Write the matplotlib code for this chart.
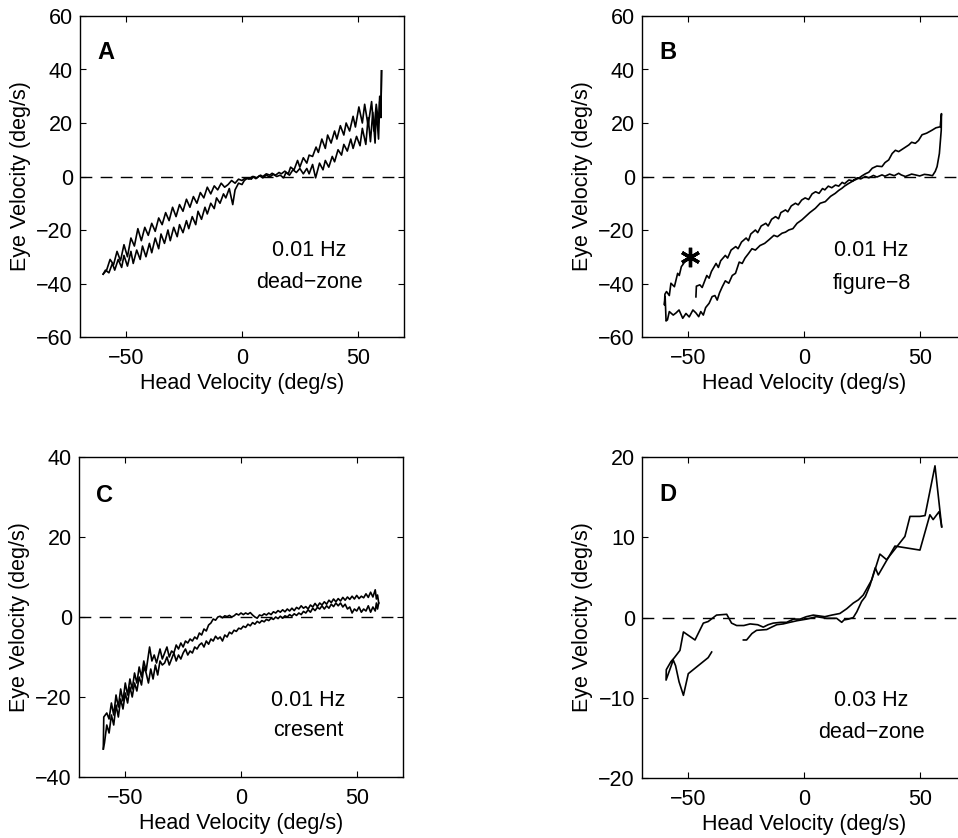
import matplotlib
matplotlib.use("Agg")
import matplotlib.pyplot as plt

plt.rcParams['font.family'] = ['Liberation Sans', 'DejaVu Sans']
plt.rcParams['axes.unicode_minus'] = True

# ---------------- Data, (head, eye) pairs ----------------
# Panel A: 0.01 Hz dead-zone loop, two branches
A_branch1 = [(-60, -36.5), (-59, -35.0), (-57.5, -36.0), (-56, -32.5), (-55, -35.0), (-53.5, -31.0), (-52, -34.0),
             (-51, -29.5), (-49.5, -33.5), (-48, -28.0), (-47, -32.5), (-45.5, -27.5), (-44, -31.0), (-43, -26.0),
             (-41.5, -30.0), (-40, -25.0), (-39, -28.5), (-37.5, -23.0), (-36, -27.0), (-35, -21.5), (-33.5, -25.0),
             (-32, -20.0), (-31, -24.0), (-29.5, -19.0), (-28, -22.5), (-27, -18.0), (-25.5, -21.0), (-24, -16.5),
             (-23, -19.5), (-21.5, -15.0), (-20, -18.0), (-19, -13.0), (-17.5, -16.0), (-16, -11.5), (-15, -14.0),
             (-13.5, -10.0), (-12, -12.0), (-11, -8.0), (-9.5, -10.0), (-8, -6.5), (-7, -8.0), (-5.5, -4.5),
             (-4, -10.5), (-3, -5.0), (-1.5, -2.5), (0, -3.0), (1, -1.5), (2.5, -0.5), (4, -1.0), (5, 0.0),
             (6.5, -0.5), (8, 0.5), (9, 0.0), (10.5, 1.0), (12, 0.5), (13, 1.2), (14.5, 0.5), (16, 1.5), (17, 1.0),
             (18.5, 2.0), (20, 1.0), (21, 3.5), (22.5, 2.5), (24, 6.0), (25, 3.5), (26.5, 7.0), (28, 5.0), (29, 8.0),
             (30.5, 7.5), (32, 11.0), (33, 9.0), (34.5, 14.0), (36, 10.5), (37, 15.5), (38.5, 12.5), (40, 17.0),
             (41, 14.0), (42.5, 19.0), (44, 15.5), (45, 20.0), (46.5, 17.0), (48, 22.5), (49, 18.5), (50.5, 26.0),
             (52, 20.0), (53, 27.0), (54.5, 19.0), (56, 28.0), (57, 17.0), (58, 27.0), (59, 20.0), (59.5, 30.0),
             (60, 24.0), (60.3, 39.5)]
A_branch2 = [(60.3, 39.5), (60, 22.0), (59.5, 28.0), (59, 14.0), (58, 25.0), (57.5, 12.5), (56.5, 24.0), (55.5, 13.0),
             (54.5, 22.0), (53.5, 12.0), (52, 18.0), (51, 11.5), (49.5, 15.0), (48, 10.5), (47, 14.0), (45.5, 9.5),
             (44, 12.0), (43, 8.0), (41.5, 10.0), (40, 5.5), (39, 7.5), (37.5, 3.5), (36, 6.0), (35, 2.5),
             (33.5, 5.0), (31.8, -0.5), (30.5, 4.5), (29, 1.0), (28, 3.0), (26.5, 1.0), (25, 3.0), (23.5, 1.5),
             (22, 2.5), (20.5, 0.5), (19, 1.5), (18, -0.5), (16.5, 0.5), (15, 0.0), (13.5, 0.8), (12, -0.2),
             (10.5, 0.5), (9, -0.5), (7.5, 0.3), (6, -0.8), (4.5, 0.0), (3, -1.0), (1.5, -0.5), (0, -1.5),
             (-1.5, -1.0), (-3, -2.5), (-4.5, -1.5), (-6, -3.0), (-7.5, -4.0), (-9, -2.5), (-10.5, -5.0),
             (-12, -3.5), (-13.5, -6.5), (-15, -4.0), (-16.5, -8.0), (-18, -6.0), (-19.5, -10.0), (-21, -7.5),
             (-22.5, -11.5), (-24, -8.5), (-25.5, -13.0), (-27, -10.5), (-28.5, -15.0), (-30, -11.5), (-31.5, -16.5),
             (-33, -13.5), (-34.5, -18.0), (-36, -15.5), (-37.5, -20.5), (-39, -17.5), (-40.5, -22.0), (-42, -19.0),
             (-43.5, -24.0), (-45, -19.5), (-46.5, -26.0), (-48, -23.0), (-49.5, -30.0), (-51, -25.5),
             (-52.5, -31.5), (-54, -28.0), (-55.5, -33.0), (-57, -31.0), (-58.5, -35.0), (-60, -36.5)]

# Panel B: 0.01 Hz figure-8 trajectory (starts near -47, ends at the star)
B_path = [(-46.7, -45.0), (-46.5, -41.0), (-45, -40.5), (-44, -41.5), (-42, -37.0), (-41, -38.0), (-40, -35.5),
          (-38, -32.5), (-37, -34.0), (-36, -31.5), (-34, -29.5), (-33, -30.5), (-31.5, -27.5), (-29.5, -26.2),
          (-28.5, -27.0), (-27, -24.5), (-25, -23.0), (-24, -24.0), (-23, -21.5), (-21, -20.0), (-20, -21.0),
          (-18.5, -18.5), (-16.5, -17.5), (-15.5, -18.5), (-14, -16.0), (-12.3, -15.0), (-11, -15.8), (-10, -13.5),
          (-8, -12.5), (-7, -13.2), (-5.5, -11.0), (-3.7, -10.0), (-2.5, -10.6), (-1, -8.8), (0.5, -8.0),
          (2, -8.6), (3.5, -6.5), (5, -5.7), (6.5, -6.3), (8, -4.5), (9, -5.0), (10.5, -3.6), (12, -4.2),
          (13.6, -3.2), (15, -3.6), (16.5, -2.2), (17.5, -2.7), (19.4, -1.3), (21, -1.6), (23, -0.5),
          (24.5, -0.9), (26.5, 0.0), (28, -0.5), (30, 0.4), (31.5, -0.2), (33.7, 0.6), (35, 0.1), (37, 0.9),
          (39, 0.3), (40.9, 1.2), (42, 0.6), (43.8, 0.0), (45, 0.4), (46.5, 0.9), (48.1, 0.6), (50, 0.2),
          (52, 0.8), (53.9, 0.6), (55.5, 0.3), (56.7, 1.9), (57.5, 3.7), (58.5, 8.6), (59.3, 17.3), (59.4, 23.5),
          (59.0, 20.0), (58.9, 18.6), (57, 18.2), (55.3, 17.3), (53, 16.2), (51, 15.6), (49.5, 13.5),
          (48.1, 12.4), (46.5, 12.8), (45.3, 11.8), (43, 10.5), (40.9, 9.3), (39.5, 9.8), (38.1, 8.6),
          (36.6, 6.2), (35, 5.2), (33.7, 3.7), (31.5, 3.9), (29.5, 3.1), (28, 1.6), (26.5, 1.0), (25, 0.2),
          (23.7, -0.6), (21.5, -1.5), (19.3, -2.6), (17.5, -3.6), (16.4, -4.4), (15, -5.2), (13.5, -6.3),
          (11.5, -7.4), (9.2, -9.4), (7, -10.0), (4.9, -11.9), (2.5, -13.5), (-0.9, -16.2), (-3, -17.5),
          (-4.8, -19.5), (-6.6, -20.0), (-8, -20.8), (-9.5, -21.2), (-11.5, -22.5), (-13, -22.0), (-15.2, -23.7),
          (-17, -25.0), (-19, -25.8), (-21, -27.5), (-22.5, -27.0), (-23.9, -28.7), (-25.5, -30.5),
          (-26.7, -32.5), (-28, -32.0), (-29.6, -36.2), (-31, -37.0), (-32.5, -39.9), (-34, -39.0),
          (-35.3, -41.2), (-36.5, -43.5), (-37.5, -46.2), (-38.5, -44.5), (-39.7, -44.9), (-41, -47.4),
          (-42.5, -49.0), (-43.5, -51.8), (-44.6, -50.5), (-45.5, -52.4), (-46.7, -51.0), (-48, -49.9),
          (-49.6, -52.5), (-51, -51.2), (-52.4, -53.0), (-54, -49.9), (-55.3, -51.0), (-56.5, -51.8),
          (-58.2, -50.5), (-59, -53.6), (-59.6, -54.0), (-60.0, -44.9), (-60.3, -48.0), (-60.1, -44.0),
          (-59.4, -43.0), (-58.2, -44.5), (-57.5, -39.9), (-56.0, -41.2), (-54.6, -36.2), (-53.9, -37.0),
          (-53.0, -33.7), (-52.4, -33.0), (-51.0, -31.2), (-49.6, -31.2)]
B_star = (-49.4, -30.2)

# Panel C: 0.01 Hz crescent loop
C_branch1 = [(-59.5, -33.0), (-59.3, -25.0), (-58, -24.0), (-57, -25.5), (-56, -21.5), (-55, -24.5), (-54, -19.5),
             (-53, -22.5), (-52, -18.0), (-51, -21.0), (-50, -16.5), (-49, -19.5), (-48, -15.5), (-47, -18.0),
             (-46, -14.0), (-45, -16.5), (-44, -12.5), (-43, -15.0), (-42, -11.0), (-41, -13.5), (-39.5, -7.5),
             (-38.5, -11.0), (-37.5, -9.5), (-36.5, -11.5), (-35, -8.0), (-34, -10.5), (-33, -9.0), (-32, -7.5),
             (-31, -10.0), (-30, -8.5), (-29, -9.0), (-28, -7.0), (-27, -8.0), (-26, -6.5), (-25, -7.5), (-24, -6.0),
             (-23, -6.5), (-22, -5.5), (-21, -6.0), (-20, -5.0), (-19, -5.5), (-18, -4.0), (-17, -4.5), (-16, -3.0),
             (-15, -3.5), (-14, -2.0), (-13, -1.5), (-12, -0.5), (-11, -0.8), (-10, 0.0), (-9, 0.2), (-8, -0.2),
             (-7, 0.3), (-6, 0.1), (-5, 0.4), (-4, 0.0), (-3, 0.3), (-2, 0.8), (-1, 0.5), (0, 1.0), (1, 0.6),
             (2, 1.0), (3, 0.7), (4, 1.1), (5, 0.5), (6, 0.0), (7, -0.3), (8, 0.5), (9, 0.3), (10, 0.8), (11, 0.5),
             (12, 1.0), (13, 0.6), (14, 1.3), (15, 1.0), (16, 1.6), (17, 1.2), (18, 1.8), (19, 1.3), (20, 2.0),
             (21, 1.5), (22, 2.2), (23, 1.6), (24, 2.4), (25, 2.0), (26, 2.8), (27, 2.2), (28, 2.6), (29, 2.0),
             (30, 3.0), (31, 2.5), (32, 3.4), (33, 2.6), (34, 3.5), (35, 3.0), (36, 3.8), (37, 3.2), (38, 4.2),
             (39, 3.6), (40, 4.5), (41, 3.8), (42, 4.6), (43, 4.0), (44, 4.9), (45, 4.2), (46, 5.0), (47, 4.4),
             (48, 5.2), (49, 4.5), (50, 5.4), (51, 4.6), (52, 5.2), (53, 4.8), (54, 5.8), (55, 4.9), (56, 6.2),
             (57, 5.0), (58, 6.8), (58.5, 4.5), (59, 5.5), (59.5, 3.5)]
C_branch2 = [(59.5, 3.5), (59, 2.0), (58.5, 3.5), (58, 1.5), (57, 2.5), (56, 1.2), (55, 2.8), (54, 1.5), (53, 2.0),
             (52, 1.2), (51, 2.5), (50, 1.5), (49, 2.0), (48, 1.0), (47, 2.5), (46, 2.0), (45, 3.2), (44, 2.5),
             (43, 3.5), (42, 2.8), (41, 3.5), (40, 2.6), (39, 3.2), (38, 2.2), (37, 2.8), (36, 2.0), (35, 2.8),
             (34, 2.0), (33, 2.4), (32, 1.6), (31, 2.2), (30, 1.2), (29, 1.8), (28, 1.0), (27, 1.4), (26, 0.6),
             (25, 1.0), (24, 0.4), (23, 0.8), (22, 0.2), (21, 0.6), (20, 0.0), (19, 0.3), (18, -0.3), (17, 0.2),
             (16, -0.4), (15, 0.0), (14, -0.6), (13, -0.3), (12, -0.9), (11, -0.6), (10, -1.2), (9, -0.9),
             (8, -1.5), (7, -1.1), (6, -1.8), (5, -1.4), (4, -2.2), (3, -1.8), (2, -2.6), (1, -2.3), (0, -3.0),
             (-1, -2.8), (-2, -3.6), (-3, -3.3), (-4, -4.2), (-5, -3.8), (-6, -5.0), (-7, -4.5), (-8, -6.0),
             (-9, -5.0), (-10, -5.5), (-11, -4.8), (-12, -6.0), (-13, -5.5), (-14, -6.8), (-15, -6.0), (-16, -7.5),
             (-17, -6.5), (-18, -7.0), (-19, -8.0), (-20, -7.5), (-21, -9.0), (-22, -8.5), (-23, -9.5), (-24, -8.0),
             (-25, -9.0), (-26, -10.5), (-27, -9.5), (-28, -11.0), (-29, -9.0), (-30, -10.5), (-31, -12.0),
             (-32, -10.0), (-33, -11.5), (-34, -12.0), (-35, -11.0), (-36, -14.5), (-37, -12.0), (-38, -15.5),
             (-39, -13.0), (-40, -16.5), (-41, -14.0), (-42, -12.5), (-43, -17.0), (-44, -15.0), (-45, -18.5),
             (-46, -16.5), (-47, -20.0), (-48, -17.5), (-49, -21.5), (-50, -19.0), (-51, -23.0), (-52, -20.5),
             (-53, -25.0), (-54, -22.0), (-55, -27.0), (-56, -24.5), (-57, -29.0), (-58, -27.0), (-59, -31.5),
             (-59.5, -33.0)]

# Panel D: 0.03 Hz dead-zone (two traced segments)
D_seg1 = [(-39.9, -4.3), (-41.4, -5.0), (-50.0, -7.0), (-52.1, -9.7), (-54.0, -8.0), (-55.5, -6.0), (-56.5, -5.3),
          (-59.6, -7.8), (-59.5, -6.5), (-57.5, -5.5), (-56.0, -5.0), (-53.6, -4.1), (-52.1, -1.8), (-47.1, -2.8),
          (-43.5, -0.7), (-41.4, -0.5), (-37.8, 0.3), (-33.4, 0.4), (-31.3, -0.7), (-29.1, -1.0), (-26.0, -1.0),
          (-23.3, -0.8), (-20.0, -0.9), (-17.6, -1.2), (-15.5, -0.9), (-13.3, -0.7), (-10.0, -0.6), (-7.5, -0.6),
          (-4.5, -0.2), (-1.7, -0.2), (1.0, 0.1), (4.0, 0.3), (9.0, 0.1), (12.0, 0.3), (15.5, 0.5), (18.5, 1.1),
          (21.3, 1.8), (23.5, 2.2), (25.6, 2.8), (29.3, 4.7), (32.8, 7.9), (35.7, 7.2), (39.5, 8.6), (43.6, 10.1),
          (45.8, 12.6), (50.1, 12.6), (52.3, 12.7), (56.6, 18.9), (59.5, 11.3)]
D_seg2 = [(-26.2, -2.8), (-24.8, -2.8), (-22.5, -2.0), (-20.5, -1.6), (-16.1, -1.5), (-14.0, -1.2), (-11.8, -0.9),
          (-9.0, -0.8), (-6.1, -0.6), (-3.0, -0.4), (1.1, -0.2), (5.4, 0.1), (9.8, -0.1), (14.1, -0.1), (16.3, -0.6),
          (17.3, -0.3), (19.2, -0.2), (21.3, 0.0), (22.8, 0.7), (24.9, 2.0), (26.5, 2.6), (28.5, 4.0), (30.8, 6.2),
          (32.1, 5.3), (35.5, 7.0), (39.3, 8.9), (43.6, 8.7), (50.1, 8.4), (54.4, 12.8), (55.8, 12.2), (58.4, 13.2),
          (59.5, 11.3)]

x_ticks = [-50, 0, 50]
ticks_AB = [-60, -40, -20, 0, 20, 40, 60]
ticks_C = [-40, -20, 0, 20, 40]
ticks_D = [-20, -10, 0, 10, 20]

# ---------------- Figure ----------------
W, H = 958, 838
fig = plt.figure(figsize=(W / 100, H / 100), dpi=100)

def rect(l, t, r, b):
    return [l / W, 1 - b / H, (r - l) / W, (b - t) / H]

axA = fig.add_axes(rect(80, 16, 404, 337))
axB = fig.add_axes(rect(642, 16, 966, 337))
axC = fig.add_axes(rect(79, 457, 403, 777))
axD = fig.add_axes(rect(642, 457, 966, 778))

FS = 15.5
lw = 1.2

def style(ax, yticks, ylim, letter, ly, t1, t2, ty1, ty2):
    ax.set_xlim(-70, 70)
    ax.set_ylim(*ylim)
    ax.set_xticks(x_ticks)
    ax.set_yticks(yticks)
    ax.tick_params(direction='in', top=True, right=True, length=4, width=0.8, labelsize=FS)
    ax.tick_params(axis='x', pad=8)
    ax.tick_params(axis='y', pad=5)
    for s in ax.spines.values():
        s.set_linewidth(1.0)
    ax.axhline(0, color='black', lw=1.0, dashes=(8.5, 6))
    ax.set_xlabel('Head Velocity (deg/s)', fontsize=FS, labelpad=3)
    ax.set_ylabel('Eye Velocity (deg/s)', fontsize=FS, labelpad=4)
    ax.text(-62.5, ly, letter, fontsize=17, fontweight='bold', ha='left', va='center')
    ax.text(29.2, ty1, t1, fontsize=FS, ha='center', va='center')
    ax.text(29.2, ty2, t2, fontsize=FS, ha='center', va='center')

def draw(ax, pts):
    xs, ys = zip(*pts)
    ax.plot(xs, ys, color='black', lw=lw)

style(axA, ticks_AB, (-60, 60), 'A', 46.4, '0.01 Hz', 'dead\u2212zone', -27.5, -39.8)
style(axB, ticks_AB, (-60, 60), 'B', 46.4, '0.01 Hz', 'figure\u22128', -27.5, -39.9)
style(axC, ticks_C, (-40, 40), 'C', 30.5, '0.01 Hz', 'cresent', -20.75, -28.3)
style(axD, ticks_D, (-20, 20), 'D', 15.3, '0.03 Hz', 'dead\u2212zone', -10.3, -14.3)

draw(axA, A_branch1)
draw(axA, A_branch2)
draw(axB, B_path)
axB.plot([B_star[0]], [B_star[1]], marker=(6, 2, 0), markersize=14, mew=2.4, color='black')
draw(axC, C_branch1)
draw(axC, C_branch2)
draw(axD, D_seg1)
draw(axD, D_seg2)

fig.savefig('out.png', dpi=100)
